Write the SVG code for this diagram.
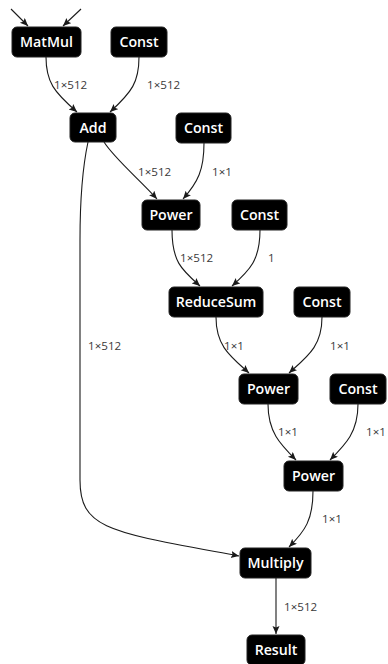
<svg xmlns="http://www.w3.org/2000/svg" width="388" height="664" viewBox="0 0 388 664">
  <style>
    .node rect { fill: #000; stroke: #222; stroke-width: 1; }
    .node text { fill: #fff; font-family: "Open Sans", "Noto Sans", "DejaVu Sans", sans-serif; font-size: 14.2px; font-weight: 600; text-anchor: middle; }
    .edge { fill: none; stroke: #1a1a1a; stroke-width: 1.1; marker-end: url(#arrow); }
    .label { fill: #3a3a3a; font-family: "Open Sans", "Noto Sans", "DejaVu Sans", sans-serif; font-size: 11.6px; }
  </style>
  <defs>
    <marker id="arrow" markerUnits="userSpaceOnUse" markerWidth="9" markerHeight="8" refX="8" refY="3.5" orient="auto">
      <path d="M0,0 L8,3.5 L0,7 L1.5,3.5 Z" fill="#1a1a1a"/>
    </marker>
  </defs>

  <rect width="388" height="664" fill="#fff"/>

  <g id="connectors">
    <!-- inputs feeding MatMul from above -->
    <path class="edge" d="M11,9 L28,26"/>
    <path class="edge" d="M81,9 L63,26"/>
    <!-- MatMul / Const -> Add -->
    <path class="edge" d="M46,57 C46,82 54,92 77,112"/>
    <path class="edge" d="M139,57 C139,82 132,92 110,112"/>
    <!-- Add -> Power, Const -> Power -->
    <path class="edge" d="M104,142 C114,158 140,180 157,199"/>
    <path class="edge" d="M204,143 C204,170 198,182 183,199"/>
    <!-- Power / Const -> ReduceSum -->
    <path class="edge" d="M172,230 C172,262 182,270 200,286"/>
    <path class="edge" d="M260,230 C260,260 250,270 232,286"/>
    <!-- ReduceSum / Const -> Power -->
    <path class="edge" d="M216,317 C216,346 230,356 249,373"/>
    <path class="edge" d="M322,317 C322,346 308,356 289,373"/>
    <!-- Power / Const -> Power -->
    <path class="edge" d="M268,404 C268,432 280,444 296,460"/>
    <path class="edge" d="M358,404 C358,432 346,444 330,460"/>
    <!-- Power -> Multiply -->
    <path class="edge" d="M313,491 C313,520 305,531 289,547"/>
    <!-- Add -> Multiply (long skip) -->
    <path class="edge" d="M88,142 C82,170 80,200 80,240 L80,480 C80,530 110,532 239,556"/>
    <!-- Multiply -> Result -->
    <path class="edge" d="M276,578 L276,634"/>
  </g>

  <g id="edge-labels">
    <text class="label" x="54" y="89">1×512</text>
    <text class="label" x="147" y="89">1×512</text>
    <text class="label" x="138" y="176">1×512</text>
    <text class="label" x="212" y="176">1×1</text>
    <text class="label" x="180" y="262">1×512</text>
    <text class="label" x="268" y="262">1</text>
    <text class="label" x="224" y="350">1×1</text>
    <text class="label" x="330" y="350">1×1</text>
    <text class="label" x="278" y="436">1×1</text>
    <text class="label" x="366" y="436">1×1</text>
    <text class="label" x="322" y="523">1×1</text>
    <text class="label" x="88" y="350">1×512</text>
    <text class="label" x="284" y="611">1×512</text>
  </g>

  <g id="node-matmul" class="node"><rect x="12" y="27" width="69" height="30" rx="5"/><text x="46.5" y="47">MatMul</text></g>
  <g id="node-const-1" class="node"><rect x="111" y="27" width="56" height="30" rx="5"/><text x="139" y="47">Const</text></g>
  <g id="node-add" class="node"><rect x="70" y="113" width="46" height="29" rx="5"/><text x="93" y="132.5">Add</text></g>
  <g id="node-const-2" class="node"><rect x="176" y="113" width="55" height="30" rx="5"/><text x="203.5" y="133">Const</text></g>
  <g id="node-power-1" class="node"><rect x="142" y="200" width="58" height="30" rx="5"/><text x="171" y="220">Power</text></g>
  <g id="node-const-3" class="node"><rect x="232" y="200" width="55" height="30" rx="5"/><text x="259.5" y="220">Const</text></g>
  <g id="node-reducesum" class="node"><rect x="169" y="287" width="94" height="30" rx="5"/><text x="216" y="307">ReduceSum</text></g>
  <g id="node-const-4" class="node"><rect x="294" y="287" width="56" height="30" rx="5"/><text x="322" y="307">Const</text></g>
  <g id="node-power-2" class="node"><rect x="239" y="374" width="59" height="30" rx="5"/><text x="268.5" y="394">Power</text></g>
  <g id="node-const-5" class="node"><rect x="330" y="374" width="56" height="30" rx="5"/><text x="358" y="394">Const</text></g>
  <g id="node-power-3" class="node"><rect x="284" y="461" width="59" height="30" rx="5"/><text x="313.5" y="481">Power</text></g>
  <g id="node-multiply" class="node"><rect x="240" y="548" width="71" height="30" rx="5"/><text x="275.5" y="568">Multiply</text></g>
  <g id="node-result" class="node"><rect x="247" y="635" width="58" height="30" rx="5"/><text x="276" y="655">Result</text></g>
</svg>
